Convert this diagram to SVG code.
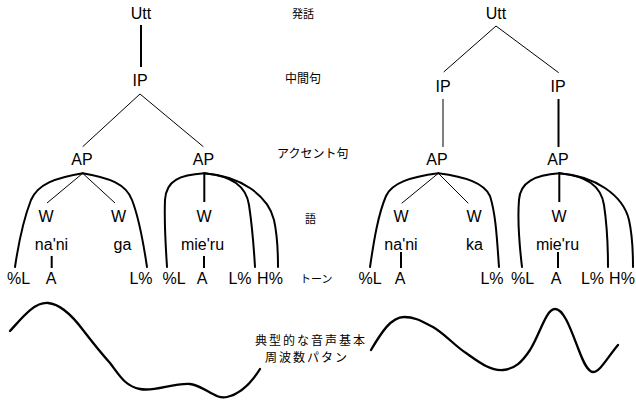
<svg xmlns="http://www.w3.org/2000/svg" width="636" height="401" viewBox="0 0 636 401">
<style>
.t{font-family:"Liberation Sans",Arial,sans-serif;font-size:16px;fill:#000;text-anchor:middle}
.j{font-family:"Noto Sans CJK JP","Noto Sans",sans-serif;fill:#000}
.thin{stroke:#000;stroke-width:1;fill:none}
.thick{stroke:#000;stroke-width:2;fill:none}
.arc{stroke:#000;stroke-width:2;fill:none;stroke-linecap:round}
.wave{stroke:#000;stroke-width:2.3;fill:none;stroke-linecap:round}
</style>
<rect width="636" height="401" fill="#fff"/>
<g id="connectors">
<line class="thick" x1="141" y1="25" x2="141" y2="67"/>
<line class="thin" x1="140" y1="94" x2="82.7" y2="146.7"/>
<line class="thin" x1="140" y1="94" x2="203.3" y2="146.7"/>
<line class="thin" x1="82.7" y1="173.3" x2="47" y2="203"/>
<line class="thin" x1="82.7" y1="173.3" x2="115" y2="203"/>
<path class="arc" d="M82.7,173.3 C55,178 38,184 31,200 C24,218 19,240 15,267"/>
<path class="arc" d="M82.7,173.3 C110,178 126,184 132,200 C139,218 143,240 147,267"/>
<line class="thick" x1="51.7" y1="256" x2="51.7" y2="268"/>
<line class="thick" x1="204.3" y1="173.3" x2="204.3" y2="202"/>
<path class="arc" d="M204.3,173.3 C180,175 166,180 165,200 C164,225 166,250 167,267"/>
<path class="arc" d="M204.3,173.3 C232,176 246,186 249,205 C252,225 254,250 255,267"/>
<path class="arc" d="M204.3,173.3 C240,176 268,195 274,220 C278,238 278,255 278,267"/>
<line class="thick" x1="204" y1="256" x2="204" y2="268"/>
<line class="thin" x1="496" y1="26" x2="443.7" y2="72"/>
<line class="thin" x1="496" y1="26" x2="558.7" y2="72.7"/>
<line class="thin" x1="443" y1="99" x2="443" y2="147"/>
<line class="thick" x1="558.5" y1="99" x2="558.5" y2="147"/>
<line class="thin" x1="438.3" y1="173.3" x2="401.7" y2="203.3"/>
<line class="thin" x1="438.3" y1="173.3" x2="468.3" y2="203.3"/>
<path class="arc" d="M438.3,173.3 C410,177 392,183 386,196 C378,215 374,240 370,267"/>
<path class="arc" d="M438.3,173.3 C466,177 484,183 490,196 C496,215 497,240 499,267"/>
<line class="thick" x1="401" y1="252" x2="401" y2="268"/>
<line class="thick" x1="559.3" y1="173.3" x2="559.3" y2="202"/>
<path class="arc" d="M559.3,173.3 C535,175 520,182 519,200 C517,225 520,250 522,267"/>
<path class="arc" d="M559.3,173.3 C587,176 601,186 604,205 C607,225 608,250 608,267"/>
<path class="arc" d="M559.3,173.3 C595,176 623,195 629,220 C633,238 633,255 633,267"/>
<line class="thick" x1="558" y1="252" x2="558" y2="268"/>
</g>
<g id="left-tree">
<g id="l-utt"><text class="t" x="141" y="19">Utt</text></g>
<g id="l-ip"><text class="t" x="140" y="86">IP</text></g>
<g id="l-ap1"><text class="t" x="82" y="165">AP</text></g>
<g id="l-ap2"><text class="t" x="203.5" y="165">AP</text></g>
<g id="l-w1"><text class="t" x="46" y="222">W</text></g>
<g id="l-w2"><text class="t" x="118.5" y="222">W</text></g>
<g id="l-w3"><text class="t" x="204" y="222">W</text></g>
<g id="l-nani"><text class="t" x="51.5" y="250">na'ni</text></g>
<g id="l-ga"><text class="t" x="122.5" y="250">ga</text></g>
<g id="l-mieru"><text class="t" x="202.5" y="250">mie'ru</text></g>
<g id="l-pl1"><text class="t" x="18.5" y="284">%L</text></g>
<g id="l-a1"><text class="t" x="51" y="284">A</text></g>
<g id="l-lp1"><text class="t" x="141" y="284">L%</text></g>
<g id="l-pl2"><text class="t" x="174" y="284">%L</text></g>
<g id="l-a2"><text class="t" x="202" y="284">A</text></g>
<g id="l-lp2"><text class="t" x="240" y="284">L%</text></g>
<g id="l-hp"><text class="t" x="270" y="284">H%</text></g>
</g>
<g id="right-tree">
<g id="r-utt"><text class="t" x="496" y="19">Utt</text></g>
<g id="r-ip1"><text class="t" x="443" y="92">IP</text></g>
<g id="r-ip2"><text class="t" x="558" y="92">IP</text></g>
<g id="r-ap1"><text class="t" x="437" y="165">AP</text></g>
<g id="r-ap2"><text class="t" x="558" y="165">AP</text></g>
<g id="r-w1"><text class="t" x="401" y="222">W</text></g>
<g id="r-w2"><text class="t" x="474" y="222">W</text></g>
<g id="r-w3"><text class="t" x="559" y="222">W</text></g>
<g id="r-nani"><text class="t" x="401" y="250">na'ni</text></g>
<g id="r-ka"><text class="t" x="474.5" y="250">ka</text></g>
<g id="r-mieru"><text class="t" x="557.5" y="250">mie'ru</text></g>
<g id="r-pl1"><text class="t" x="370" y="284">%L</text></g>
<g id="r-a1"><text class="t" x="400" y="284">A</text></g>
<g id="r-lp1"><text class="t" x="492" y="284">L%</text></g>
<g id="r-pl2"><text class="t" x="522.5" y="284">%L</text></g>
<g id="r-a2"><text class="t" x="556" y="284">A</text></g>
<g id="r-lp2"><text class="t" x="592.5" y="284">L%</text></g>
<g id="r-hp"><text class="t" x="622" y="284">H%</text></g>
</g>
<g id="labels">
<text class="j" x="292" y="18" font-size="11">発話</text>
<text class="j" x="285" y="83" font-size="12">中間句</text>
<text class="j" x="277" y="158" font-size="12">アクセント句</text>
<text class="j" x="305" y="223" font-size="11">語</text>
<text class="j" x="300" y="283" font-size="11">トーン</text>
<text class="j" x="255" y="345" font-size="12" letter-spacing="2">典型的な音声基本</text>
<text class="j" x="265" y="362" font-size="12" letter-spacing="2">周波数パタン</text>
</g>
<g id="waves">
<path class="wave" d="M10,331 C22,318 34,302 48,303 C62,304 74,318 83,330 C93,343 101,353 110,363 C120,376 125,386 140,389 C155,392 172,383 190,384 C205,386 215,400 227,397 C240,394 250,385 260,369"/>
<path class="wave" d="M371,350 C381,333 391,317 404,317 C416,317 423,322 433,327 C445,334 455,346 466,353 C479,362 490,371 503,370 C515,369 522,362 530,350 C540,334 546,309 555,309 C564,309 571,330 578,348 C584,364 588,372 593,372 C600,372 607,358 618,345"/>
</g>
</svg>
